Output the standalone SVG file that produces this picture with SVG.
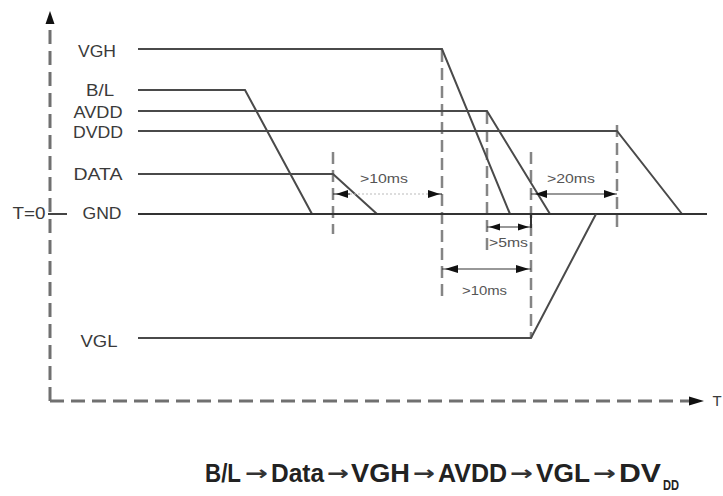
<svg xmlns="http://www.w3.org/2000/svg" width="723" height="496" viewBox="0 0 723 496">
<style>
.lbl{font-family:"Liberation Sans",Arial,sans-serif;font-size:16px;fill:#3a3a3a;text-anchor:middle}
.dim{font-family:"Liberation Sans",Arial,sans-serif;font-size:13px;fill:#555}
.sig{stroke:#4a4a4a;stroke-width:2;fill:none}
.axis{stroke:#707070;stroke-width:3;stroke-dasharray:14 7;fill:none}
.guide{stroke:#858585;stroke-width:2.5;stroke-dasharray:12 6;fill:none}
.darr{stroke:#333;stroke-width:1.2;fill:none}
.head{fill:#111}
.seq{font-family:"Liberation Sans",Arial,sans-serif;font-size:25px;font-weight:bold;fill:#222}
.seqa{font-family:"DejaVu Sans",sans-serif;font-size:20px;font-weight:bold;fill:#333}
</style>
<rect width="723" height="496" fill="#fff"/>
<g id="axes">
<line class="axis" x1="50" y1="401" x2="50" y2="24"/>
<polygon class="head" points="50,11 45.5,24 54.5,24"/>
<line class="axis" x1="50" y1="401" x2="690" y2="401"/>
<polygon class="head" points="704,401 689,396.5 689,405.5"/>
<text x="717" y="406" class="lbl" style="font-size:15px">T</text>
<line x1="48" y1="214" x2="67" y2="214" stroke="#444" stroke-width="2"/>
<text x="29" y="219" class="lbl" textLength="33" lengthAdjust="spacingAndGlyphs">T=0</text>
</g>
<g id="labels">
<g id="lbl-vgh"><text x="97" y="57" class="lbl" textLength="38" lengthAdjust="spacingAndGlyphs">VGH</text></g>
<g id="lbl-bl"><text x="100" y="96" class="lbl" textLength="28" lengthAdjust="spacingAndGlyphs">B/L</text></g>
<g id="lbl-avdd"><text x="98" y="118" class="lbl" textLength="49" lengthAdjust="spacingAndGlyphs">AVDD</text></g>
<g id="lbl-dvdd"><text x="98" y="138" class="lbl" textLength="50" lengthAdjust="spacingAndGlyphs">DVDD</text></g>
<g id="lbl-data"><text x="98" y="180" class="lbl" textLength="49" lengthAdjust="spacingAndGlyphs">DATA</text></g>
<g id="lbl-gnd"><text x="102" y="219" class="lbl" textLength="39" lengthAdjust="spacingAndGlyphs">GND</text></g>
<g id="lbl-vgl"><text x="99" y="347" class="lbl" textLength="37" lengthAdjust="spacingAndGlyphs">VGL</text></g>
</g>
<g id="guides">
<line class="guide" x1="333" y1="152" x2="333" y2="234"/>
<line class="guide" x1="442" y1="50" x2="442" y2="298"/>
<line class="guide" x1="487" y1="112" x2="487" y2="255"/>
<line class="guide" x1="531" y1="152" x2="531" y2="338"/>
<line class="guide" x1="617" y1="125" x2="617" y2="227"/>
</g>
<g id="signals">
<g id="sig-vgh"><polyline class="sig" points="138,49 442,49 510,214"/></g>
<g id="sig-bl"><polyline class="sig" points="138,90 245,90 312,214"/></g>
<g id="sig-avdd"><polyline class="sig" points="138,111 487,111 550,214"/></g>
<g id="sig-dvdd"><polyline class="sig" points="138,131 617,131 682,214"/></g>
<g id="sig-data"><polyline class="sig" points="138,174 333,174 377,214"/></g>
<g id="sig-gnd"><line class="sig" x1="138" y1="214" x2="707" y2="214" style="stroke:#333"/></g>
<g id="sig-vgl"><polyline class="sig" points="138,338 531,338 596,214"/></g>
</g>
<g id="dimensions">
<g id="dim-10a">
<line x1="333" y1="194" x2="350" y2="194" class="darr"/>
<line x1="350" y1="194" x2="428" y2="194" stroke="#bbb" stroke-width="1" stroke-dasharray="2 2"/>
<line x1="428" y1="194" x2="442" y2="194" class="darr"/>
<polygon class="head" points="336,194 348,190 348,198"/>
<polygon class="head" points="440,194 428,190 428,198"/>
<text x="360" y="183" class="dim" textLength="48" lengthAdjust="spacingAndGlyphs">&gt;10ms</text>
</g>
<g id="dim-5">
<line x1="487" y1="227" x2="531" y2="227" class="darr"/>
<line x1="531" y1="214" x2="531" y2="228" stroke="#333" stroke-width="2"/>
<polygon class="head" points="489,227 500,223.5 500,230.5"/>
<polygon class="head" points="529,227 518,223.5 518,230.5"/>
<text x="489" y="247" class="dim" textLength="39" lengthAdjust="spacingAndGlyphs">&gt;5ms</text>
</g>
<g id="dim-10b">
<line x1="442" y1="269" x2="531" y2="269" class="darr"/>
<polygon class="head" points="445,269 458,265 458,273"/>
<polygon class="head" points="529,269 516,265 516,273"/>
<text x="462" y="295" class="dim" textLength="45" lengthAdjust="spacingAndGlyphs">&gt;10ms</text>
</g>
<g id="dim-20">
<line x1="531" y1="194" x2="617" y2="194" class="darr"/>
<polygon class="head" points="535,194 547,190 547,198"/>
<polygon class="head" points="616,194 604,190 604,198"/>
<text x="547" y="183" class="dim" textLength="48" lengthAdjust="spacingAndGlyphs">&gt;20ms</text>
</g>
</g>
<g id="sequence">
<text x="205" y="482" class="seq" textLength="36" lengthAdjust="spacingAndGlyphs">B/L</text>
<text x="245" y="480" class="seqa" textLength="23" lengthAdjust="spacingAndGlyphs">→</text>
<text x="271" y="482" class="seq" textLength="53" lengthAdjust="spacingAndGlyphs">Data</text>
<text x="327" y="480" class="seqa" textLength="22" lengthAdjust="spacingAndGlyphs">→</text>
<text x="351" y="482" class="seq" textLength="59" lengthAdjust="spacingAndGlyphs">VGH</text>
<text x="413" y="480" class="seqa" textLength="22" lengthAdjust="spacingAndGlyphs">→</text>
<text x="438" y="482" class="seq" textLength="69" lengthAdjust="spacingAndGlyphs">AVDD</text>
<text x="510" y="480" class="seqa" textLength="23" lengthAdjust="spacingAndGlyphs">→</text>
<text x="536" y="482" class="seq" textLength="54" lengthAdjust="spacingAndGlyphs">VGL</text>
<text x="593" y="480" class="seqa" textLength="23" lengthAdjust="spacingAndGlyphs">→</text>
<text x="619" y="482" class="seq" textLength="42" lengthAdjust="spacingAndGlyphs">DV</text>
<text x="663" y="490" class="seq" style="font-size:14px" textLength="16" lengthAdjust="spacingAndGlyphs">DD</text>
</g>
</svg>
